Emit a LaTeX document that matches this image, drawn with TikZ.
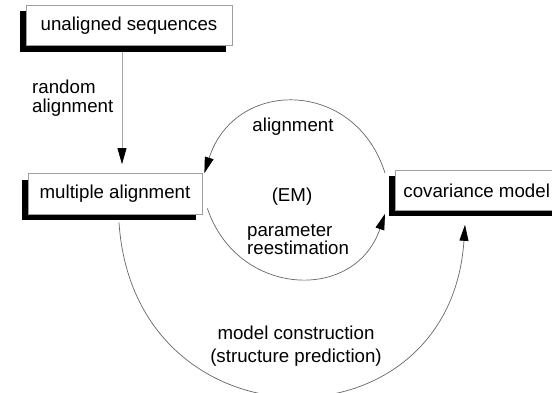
\documentclass[tikz,border=0pt]{standalone}
\usepackage{fontspec}
\setmainfont{Liberation Sans}
\usetikzlibrary{arrows.meta,shadows}
\begin{document}
\begin{tikzpicture}[x=1pt,y=-1pt,
  txt/.style={font=\fontsize{18.7}{18.5}\selectfont, inner sep=0pt},
  txtwide/.style={font=\fontsize{18.7}{22.7}\selectfont, inner sep=0pt},
  box/.style={draw=gray!75, line width=0.8pt, fill=white, inner sep=0pt,
    font=\fontsize{18.7}{18.5}\selectfont,
    general shadow={fill=black, shadow xshift=-6pt, shadow yshift=-6pt}},
  flow/.style={line width=0.7pt, draw=black!60,
    -{Triangle[length=16pt,width=9pt,color=black]}},
  feed/.style={flow, draw=black!35},
]
\useasboundingbox (0,0) rectangle (552,392);
\clip (0,0) rectangle (552,392);

% boxes with their black drop shadows
\node[box, minimum width=206pt, minimum height=40.7pt] (seq) at (129,25.3) {unaligned sequences};
\node[box, minimum width=174pt, minimum height=40.5pt] (mult) at (115,193.8) {multiple alignment};
\node[box, anchor=north west, inner xsep=8pt, minimum height=40pt] (cov) at (395,170) {covariance model};

% labels (base anchor of a two-line label sits on its last line)
\node[txt, anchor=base west, align=left] (lrand) at (32,112) {random\\alignment};
\node[txt, anchor=base] (lalign) at (293,131) {alignment};
\node[txt, anchor=base] (lem) at (292,201) {(EM)};
\node[txt, anchor=base west, align=left] (lparam) at (247,254.8) {parameter\\reestimation};
\node[txtwide, anchor=base, align=center] (lmodel) at (296,362.3) {model construction\\(structure prediction)};

% initial alignment
\draw[feed] ([xshift=-7pt,yshift=-6pt]seq.south) -- ([xshift=7pt,yshift=9pt]mult.north);

% EM loop
\draw[flow] ([xshift=-10pt,yshift=-3pt]cov.north west)
  .. controls +(-30,-95) and +(30,-95) .. ([xshift=2pt]mult.north east);
\draw[flow] ([xshift=5pt,yshift=6pt]mult.south east)
  .. controls +(30,89) and +(-30,89) .. ([xshift=-10pt,yshift=-3pt]cov.south west);

% model construction
\draw[flow] ([xshift=4pt,yshift=-8pt]mult.south)
  .. controls +(15,229) and +(-15,229) .. ([xshift=70pt,yshift=-14pt]cov.south west);
\end{tikzpicture}
\end{document}
